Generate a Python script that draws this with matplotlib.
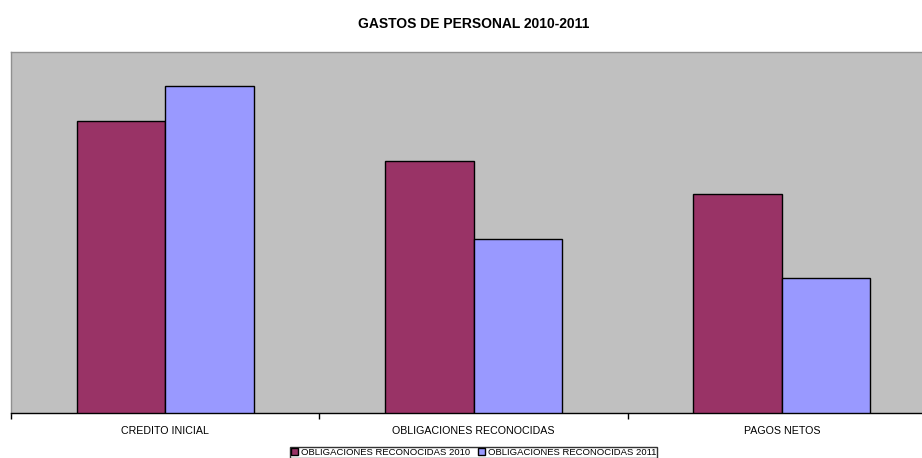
import matplotlib
matplotlib.use('Agg')
import matplotlib.pyplot as plt
import numpy as np
from matplotlib.patches import Patch

categorias = ["CREDITO INICIAL", "OBLIGACIONES RECONOCIDAS", "PAGOS NETOS"]
serie_2010 = [292, 252, 219]
serie_2011 = [327, 174, 135]
nombres = ["OBLIGACIONES RECONOCIDAS 2010", "OBLIGACIONES RECONOCIDAS 2011"]
colores = ["#993366", "#9999FF"]

plt.rcParams['font.family'] = ['Liberation Sans', 'DejaVu Sans']

W, H = 922, 458
fig = plt.figure(figsize=(W/100, H/100), dpi=100)
fig.patch.set_facecolor('white')
# area del grafico (sale un poco por la derecha, como en el original)
ax = fig.add_axes([11/W, (H-413)/H, 925/W, (413-52)/H])
ax.set_facecolor('#C0C0C0')

x = np.arange(len(categorias))
bw = 0.287
ax.bar(x - bw/2, serie_2010, bw, color=colores[0], edgecolor='black', linewidth=1, zorder=3)
ax.bar(x + bw/2, serie_2011, bw, color=colores[1], edgecolor='black', linewidth=1, zorder=3)

ax.set_xlim(-0.5, 2.5)
ax.set_ylim(0, 361)
ax.set_yticks([])
ax.set_xticks(x)
ax.set_xticklabels(categorias, fontsize=7.7)
ax.tick_params(axis='x', which='major', length=0, pad=9)
ax.set_xticks([-0.5, 0.5, 1.5, 2.5], minor=True)
ax.tick_params(axis='x', which='minor', length=4, width=1, direction='out', color='black')

for s in ['top', 'right', 'left']:
    ax.spines[s].set_color('#909090')
    ax.spines[s].set_linewidth(1)
ax.spines['bottom'].set_color('black')
ax.spines['bottom'].set_linewidth(1)

ax.set_title("GASTOS DE PERSONAL 2010-2011", fontsize=10, fontweight='bold', pad=17)

handles = [Patch(facecolor=c, edgecolor='black', linewidth=1) for c in colores]
leg = fig.legend(handles, nombres, loc='upper center', bbox_to_anchor=(473.5/W, (H-447)/H),
                 ncol=2, frameon=True, fancybox=False, borderpad=0.1,
                 prop={'size': 6.8},
                 handlelength=0.75, handleheight=0.75, handletextpad=0.3, columnspacing=0.8,
                 borderaxespad=0)
leg.get_frame().set_edgecolor('black')
leg.get_frame().set_linewidth(1)

plt.savefig('out.png', dpi=100, facecolor='white')
plt.close()
